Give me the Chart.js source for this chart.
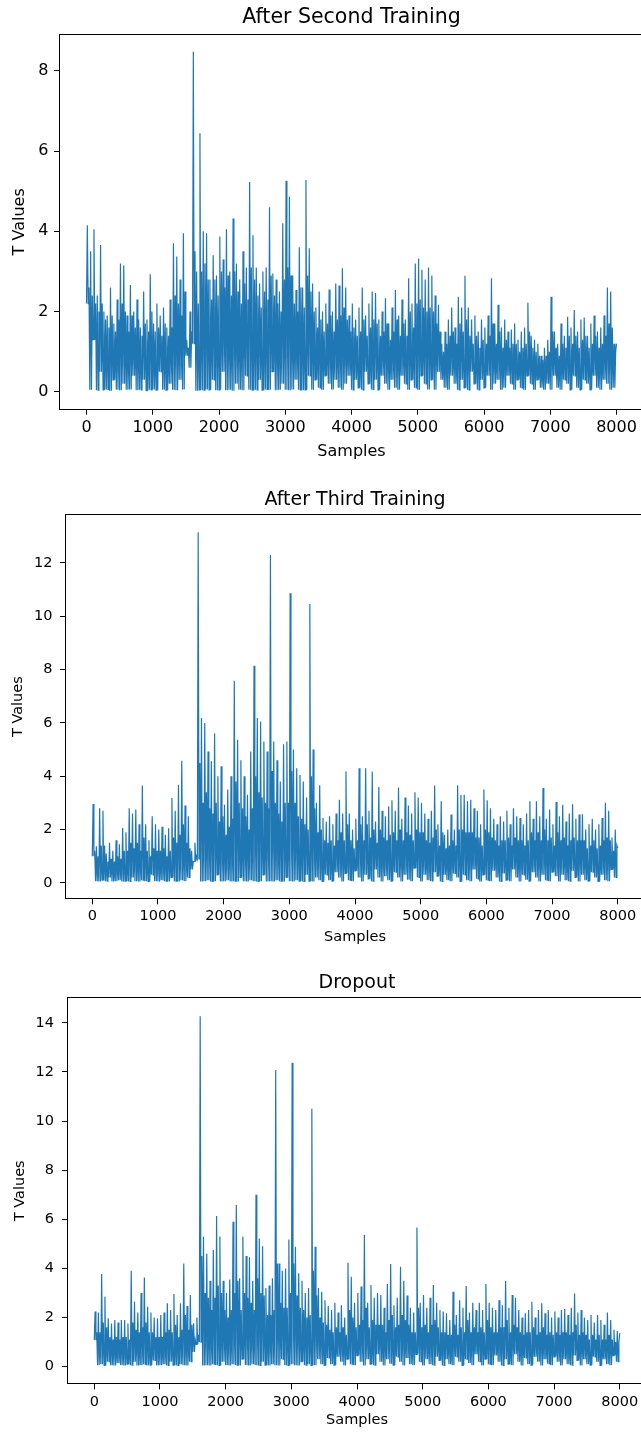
<!DOCTYPE html>
<html>
<head>
<meta charset="utf-8">
<script src="https://cdn.jsdelivr.net/npm/chart.js@4.4.1/dist/chart.umd.min.js"></script>
<style>
  html, body { margin: 0; padding: 0; background: #fff; width: 641px; height: 1432px; overflow: hidden; }
  canvas { position: absolute; left: 0; }
</style>
</head>
<body>
<canvas id="second" width="660" height="470" style="top:0px"></canvas>
<canvas id="third" width="660" height="485" style="top:470px"></canvas>
<canvas id="dropout" width="660" height="477" style="top:955px"></canvas>
<script>
// each series is stored per block of 50 samples: highest spike, trough, and the
// height of the next-highest spikes in that block
const binSize = 50;
const xTicks = [0, 1000, 2000, 3000, 4000, 5000, 6000, 7000, 8000];

const secondTicks = [0, 2, 4, 6, 8];
const secondPeaks = [
  4.15, 3.5, 4.05, 2.4, 3.66, 2.0, 1.9, 2.6, 1.7, 2.3,
  3.2, 3.15, 1.9, 2.66, 2.0, 2.3, 1.6, 2.5, 1.8, 2.93,
  1.7, 2.2, 1.9, 2.1, 1.6, 2.3, 3.7, 3.37, 2.8, 3.95,
  1.3, 2.0, 8.47, 3.0, 6.44, 4.0, 3.95, 2.8, 3.4, 2.9,
  3.87, 3.3, 4.05, 3.0, 4.32, 3.2, 2.8, 3.5, 3.1, 5.23,
  3.9, 3.1, 2.7, 3.0, 3.1, 4.6, 2.95, 2.8, 2.5, 4.2,
  5.26, 4.86, 2.9, 2.54, 3.6, 2.6, 5.28, 3.58, 2.7, 2.1,
  2.5, 2.0, 2.2, 2.55, 2.0, 2.7, 2.65, 3.08, 2.6, 1.9,
  2.2, 1.8, 2.1, 2.6, 1.9, 2.2, 2.5, 2.46, 1.8, 2.0,
  2.33, 1.7, 2.1, 2.54, 1.9, 2.3, 1.8, 2.83, 2.2, 3.2,
  3.32, 3.04, 2.8, 3.1, 2.9, 2.4, 2.17, 1.2, 1.5, 1.8,
  2.1, 1.6, 2.37, 2.1, 2.89, 2.1, 1.8, 1.9, 1.5, 1.8,
  1.6, 1.9, 2.83, 1.7, 2.17, 1.6, 1.8, 1.5, 1.55, 1.7,
  1.3, 1.5, 1.6, 2.22, 1.4, 1.3, 1.2, 0.9, 1.1, 1.3,
  2.37, 1.5, 1.2, 1.7, 1.4, 1.87, 1.6, 2.04, 1.5, 1.8,
  1.85, 1.4, 1.7, 1.9, 1.5, 1.6, 1.9, 2.6, 2.5, 1.2
];
const secondBand = [
  2.6, 2.4, 2.2, 2.0, 2.2, 1.8, 1.6, 1.9, 1.5, 1.8,
  2.2, 2.0, 1.5, 1.9, 1.6, 1.8, 1.4, 1.7, 1.5, 2.0,
  1.5, 1.6, 1.4, 1.7, 1.4, 1.6, 2.4, 2.2, 1.9, 2.5,
  1.1, 1.5, 3.5, 2.2, 3.0, 3.2, 2.8, 2.3, 2.8, 2.4,
  3.0, 2.6, 2.9, 2.4, 3.0, 2.5, 2.2, 2.7, 2.3, 3.1,
  2.8, 2.4, 2.1, 2.5, 2.3, 2.9, 2.4, 2.2, 2.0, 2.8,
  3.1, 2.9, 2.2, 2.0, 2.6, 2.1, 2.9, 2.5, 2.0, 1.6,
  1.8, 1.5, 1.7, 1.9, 1.5, 1.8, 1.9, 2.1, 1.8, 1.5,
  1.6, 1.4, 1.5, 1.8, 1.4, 1.6, 1.8, 1.7, 1.4, 1.5,
  1.7, 1.3, 1.5, 1.8, 1.4, 1.7, 1.4, 2.0, 1.6, 2.2,
  2.3, 2.1, 2.0, 2.1, 2.0, 1.7, 1.5, 1.0, 1.2, 1.4,
  1.5, 1.2, 1.7, 1.5, 1.8, 1.4, 1.2, 1.4, 1.1, 1.3,
  1.2, 1.4, 1.7, 1.2, 1.5, 1.1, 1.3, 1.1, 1.2, 1.2,
  1.0, 1.1, 1.2, 1.5, 1.1, 1.0, 0.9, 0.8, 0.9, 1.0,
  1.5, 1.1, 0.9, 1.2, 1.1, 1.4, 1.2, 1.4, 1.1, 1.3,
  1.4, 1.1, 1.2, 1.4, 1.1, 1.2, 1.4, 1.7, 1.6, 1.0
];
const secondLows = [
  2.2, 0.05, 1.3, 0.04, 0.5, 0.05, 0.06, 0.03, 0.3, 0.05,
  0.04, 0.2, 0.05, 0.06, 0.4, 0.04, 0.05, 0.3, 0.03, 0.05,
  0.06, 0.04, 0.5, 0.05, 0.04, 0.2, 0.05, 0.04, 0.3, 0.06,
  0.9, 0.6, 1.2, 0.03, 0.05, 0.04, 0.06, 0.05, 0.3, 0.04,
  0.05, 0.5, 0.04, 0.05, 0.03, 0.2, 0.05, 0.04, 0.4, 0.05,
  0.04, 0.05, 0.3, 0.04, 0.06, 0.05, 0.5, 0.04, 0.05, 0.2,
  0.05, 0.04, 0.06, 0.3, 0.05, 0.04, 0.05, 0.4, 0.05, 0.3,
  0.1, 0.05, 0.4, 0.2, 0.06, 0.3, 0.1, 0.05, 0.2, 0.4,
  0.05, 0.3, 0.1, 0.05, 0.5, 0.2, 0.06, 0.3, 0.05, 0.4,
  0.2, 0.05, 0.3, 0.1, 0.05, 0.4, 0.2, 0.05, 0.3, 0.1,
  0.05, 0.4, 0.2, 0.06, 0.3, 0.05, 0.5, 0.3, 0.1, 0.05,
  0.4, 0.2, 0.05, 0.3, 0.1, 0.05, 0.5, 0.2, 0.05, 0.3,
  0.1, 0.4, 0.05, 0.2, 0.3, 0.05, 0.1, 0.4, 0.2, 0.05,
  0.3, 0.1, 0.05, 0.4, 0.2, 0.05, 0.3, 0.1, 0.05, 0.2,
  0.05, 0.4, 0.1, 0.05, 0.3, 0.2, 0.05, 0.4, 0.1, 0.05,
  0.3, 0.2, 0.05, 0.4, 0.1, 0.05, 0.3, 0.2, 0.05, 0.1,
  1.2
];

const thirdTicks = [0, 2, 4, 6, 8, 10, 12];
const thirdPeaks = [
  2.96, 1.37, 2.8, 2.7, 1.1, 1.5, 1.2, 1.6, 1.45, 2.06,
  1.9, 2.8, 2.6, 2.75, 2.2, 3.65, 2.2, 1.6, 2.5, 2.2,
  2.0, 2.1, 1.8, 2.05, 3.18, 2.7, 3.68, 4.58, 2.9, 2.5,
  1.2, 1.5, 13.15, 6.18, 6.0, 4.93, 4.56, 5.6, 4.0, 4.37,
  2.93, 3.5, 4.0, 7.58, 5.37, 4.6, 4.0, 3.3, 4.93, 8.14,
  6.18, 6.05, 5.3, 4.93, 12.3, 5.3, 4.6, 3.8, 5.2, 5.3,
  10.86, 5.0, 4.3, 4.05, 3.8, 3.2, 10.46, 5.0, 3.0, 3.66,
  2.43, 2.3, 2.5, 2.2, 2.6, 3.12, 2.6, 4.18, 2.6, 2.0,
  2.4, 4.3, 2.5, 4.3, 2.7, 4.18, 2.3, 3.6, 2.7, 2.5,
  2.87, 3.1, 2.7, 3.58, 2.4, 3.2, 2.9, 2.6, 3.4, 3.2,
  3.0, 2.6, 2.4, 2.7, 3.65, 2.2, 3.06, 1.8, 2.0, 2.56,
  2.0, 3.66, 3.3, 3.3, 3.06, 3.12, 2.8, 2.7, 2.2, 3.5,
  3.1, 2.8, 2.4, 2.2, 2.5, 2.3, 2.7, 2.2, 2.8, 2.5,
  2.43, 2.2, 2.6, 3.06, 2.4, 3.06, 2.5, 3.56, 2.4, 2.75,
  2.2, 3.03, 2.5, 2.93, 2.3, 2.6, 2.95, 2.4, 2.56, 2.57,
  2.0, 2.2, 2.4, 2.0, 2.2, 2.43, 3.0, 2.7, 1.7, 2.0
];
const thirdBand = [
  1.2, 1.0, 1.4, 1.4, 0.8, 0.9, 0.8, 1.0, 0.9, 1.2,
  1.2, 1.5, 1.3, 1.5, 1.2, 1.7, 1.2, 1.0, 1.3, 1.2,
  1.2, 1.3, 1.0, 1.2, 1.7, 1.5, 1.8, 2.2, 1.5, 1.3,
  0.8, 1.0, 4.5, 3.0, 3.4, 2.8, 2.6, 3.0, 2.3, 2.5,
  1.8, 2.1, 2.4, 3.8, 3.0, 2.8, 2.5, 2.0, 2.8, 4.0,
  3.4, 3.2, 3.0, 2.8, 4.2, 3.0, 2.6, 2.3, 3.0, 3.0,
  4.2, 3.0, 2.5, 2.4, 2.2, 2.0, 4.0, 2.8, 1.9, 2.0,
  1.6, 1.5, 1.6, 1.4, 1.6, 1.9, 1.6, 2.2, 1.6, 1.3,
  1.6, 2.2, 1.6, 2.2, 1.7, 2.0, 1.5, 2.0, 1.7, 1.6,
  1.8, 1.9, 1.6, 2.0, 1.6, 1.9, 1.8, 1.6, 2.0, 1.9,
  1.9, 1.6, 1.5, 1.7, 2.0, 1.4, 1.9, 1.3, 1.4, 1.6,
  1.4, 2.0, 2.0, 1.9, 1.9, 1.9, 1.7, 1.7, 1.4, 2.0,
  1.9, 1.7, 1.6, 1.4, 1.6, 1.6, 1.7, 1.4, 1.7, 1.6,
  1.6, 1.4, 1.6, 1.9, 1.6, 1.9, 1.6, 2.0, 1.6, 1.7,
  1.4, 1.9, 1.6, 1.7, 1.4, 1.6, 1.7, 1.6, 1.6, 1.6,
  1.3, 1.4, 1.6, 1.3, 1.4, 1.6, 1.7, 1.6, 1.2, 1.4
];
const thirdLows = [
  1.0, 0.06, 0.05, 0.1, 0.06, 0.2, 0.05, 0.06, 0.1, 0.05,
  0.06, 0.05, 0.2, 0.06, 0.05, 0.1, 0.06, 0.05, 0.3, 0.06,
  0.05, 0.1, 0.06, 0.05, 0.2, 0.06, 0.05, 0.1, 0.06, 0.2,
  0.5, 0.8, 0.9, 0.05, 0.06, 0.1, 0.05, 0.06, 0.3, 0.05,
  0.06, 0.1, 0.05, 0.06, 0.05, 0.2, 0.06, 0.05, 0.1, 0.06,
  0.05, 0.06, 0.3, 0.05, 0.06, 0.05, 0.1, 0.06, 0.05, 0.2,
  0.06, 0.05, 0.1, 0.06, 0.05, 0.3, 0.06, 0.05, 0.2, 0.1,
  0.05, 0.3, 0.1, 0.06, 0.4, 0.2, 0.05, 0.35, 0.1, 0.06,
  0.45, 0.2, 0.05, 0.3, 0.15, 0.06, 0.5, 0.2, 0.05, 0.25,
  0.1, 0.06, 0.4, 0.2, 0.05, 0.3, 0.12, 0.06, 0.55, 0.2,
  0.05, 0.3, 0.1, 0.07, 0.4, 0.25, 0.05, 0.3, 0.1, 0.06,
  0.35, 0.2, 0.05, 0.3, 0.1, 0.06, 0.5, 0.15, 0.05, 0.3,
  0.1, 0.06, 0.45, 0.2, 0.05, 0.35, 0.1, 0.06, 0.5, 0.2,
  0.05, 0.3, 0.12, 0.06, 0.4, 0.2, 0.05, 0.3, 0.1, 0.06,
  0.4, 0.25, 0.05, 0.3, 0.1, 0.06, 0.45, 0.2, 0.05, 0.3,
  0.1, 0.06, 0.4, 0.2, 0.05, 0.3, 0.1, 0.06, 0.5, 0.2,
  1.3
];

const dropoutTicks = [0, 2, 4, 6, 8, 10, 12, 14];
const dropoutPeaks = [
  2.24, 2.2, 3.77, 2.85, 1.97, 1.76, 1.9, 1.8, 1.9, 1.9,
  1.76, 3.9, 2.64, 2.2, 3.0, 3.63, 2.44, 2.2, 2.0, 1.97,
  2.1, 2.2, 2.58, 2.3, 2.96, 2.1, 2.58, 4.2, 2.47, 2.92,
  1.76, 2.0, 14.27, 5.29, 4.6, 3.5, 4.75, 6.13, 5.3, 3.5,
  3.0, 3.55, 5.9, 6.58, 3.6, 5.3, 4.5, 4.45, 3.5, 7.0,
  5.22, 4.9, 3.2, 3.3, 3.6, 12.08, 4.2, 3.9, 4.0, 5.18,
  12.37, 4.88, 3.8, 3.5, 3.0, 3.2, 10.5, 4.88, 3.2, 3.05,
  2.7, 2.47, 2.3, 2.6, 2.2, 2.5, 2.0, 4.23, 3.66, 2.6,
  3.0, 3.26, 5.36, 2.6, 3.32, 2.8, 3.0, 2.92, 2.4, 3.36,
  4.18, 2.5, 2.8, 4.07, 3.5, 2.9, 2.4, 2.2, 5.67, 2.6,
  2.92, 2.4, 2.8, 3.32, 2.6, 2.3, 2.24, 2.17, 1.9, 3.05,
  2.1, 2.7, 2.4, 3.28, 2.2, 2.6, 2.3, 2.6, 2.3, 3.36,
  2.6, 2.4, 2.3, 2.7, 2.5, 3.49, 2.4, 2.92, 2.8, 2.3,
  2.0, 2.17, 2.3, 2.64, 2.0, 2.3, 2.58, 2.17, 2.3, 2.0,
  2.24, 2.0, 2.3, 2.35, 2.1, 2.4, 2.98, 2.2, 2.3, 2.0,
  1.9, 2.1, 1.8, 2.1, 1.9, 1.7, 2.2, 1.9, 1.5, 1.45
];
const dropoutBand = [
  1.4, 1.4, 1.8, 1.6, 1.2, 1.1, 1.2, 1.1, 1.2, 1.2,
  1.1, 1.8, 1.5, 1.4, 1.6, 1.8, 1.4, 1.4, 1.2, 1.2,
  1.2, 1.4, 1.5, 1.4, 1.7, 1.2, 1.5, 2.1, 1.5, 1.7,
  1.1, 1.3, 4.5, 3.0, 2.8, 2.3, 2.8, 3.3, 3.0, 2.3,
  2.0, 2.3, 3.0, 3.5, 2.3, 3.0, 2.8, 2.6, 2.3, 3.6,
  3.0, 2.9, 2.1, 2.1, 2.3, 4.2, 2.6, 2.4, 2.4, 3.0,
  4.2, 2.9, 2.4, 2.3, 2.0, 2.1, 3.9, 2.9, 2.0, 1.8,
  1.7, 1.5, 1.4, 1.6, 1.4, 1.6, 1.3, 2.3, 2.0, 1.6,
  1.7, 1.9, 2.4, 1.6, 1.9, 1.7, 1.7, 1.7, 1.4, 1.9,
  2.1, 1.6, 1.7, 2.1, 1.9, 1.7, 1.4, 1.4, 2.4, 1.6,
  1.7, 1.4, 1.7, 1.9, 1.6, 1.4, 1.4, 1.3, 1.3, 1.7,
  1.3, 1.6, 1.4, 1.9, 1.4, 1.6, 1.4, 1.6, 1.4, 1.9,
  1.6, 1.4, 1.4, 1.6, 1.6, 1.9, 1.4, 1.7, 1.6, 1.4,
  1.3, 1.4, 1.4, 1.6, 1.3, 1.4, 1.6, 1.3, 1.4, 1.3,
  1.4, 1.3, 1.4, 1.4, 1.3, 1.4, 1.7, 1.3, 1.4, 1.3,
  1.1, 1.3, 1.1, 1.3, 1.1, 1.1, 1.3, 1.1, 1.0, 1.0
];
const dropoutLows = [
  1.08, 0.06, 0.1, 0.05, 0.2, 0.06, 0.05, 0.15, 0.06, 0.05,
  0.1, 0.06, 0.2, 0.05, 0.06, 0.1, 0.05, 0.06, 0.25, 0.05,
  0.06, 0.1, 0.05, 0.2, 0.06, 0.05, 0.1, 0.06, 0.05, 0.2,
  0.6, 0.9, 1.0, 0.05, 0.06, 0.05, 0.1, 0.06, 0.05, 0.2,
  0.06, 0.05, 0.1, 0.06, 0.05, 0.3, 0.06, 0.05, 0.1, 0.06,
  0.05, 0.2, 0.06, 0.05, 0.1, 0.06, 0.05, 0.3, 0.06, 0.05,
  0.1, 0.06, 0.05, 0.2, 0.06, 0.1, 0.05, 0.06, 0.3, 0.1,
  0.05, 0.35, 0.1, 0.06, 0.4, 0.2, 0.05, 0.3, 0.1, 0.06,
  0.45, 0.2, 0.05, 0.3, 0.1, 0.06, 0.5, 0.2, 0.05, 0.3,
  0.12, 0.06, 0.4, 0.2, 0.05, 0.35, 0.1, 0.06, 0.5, 0.2,
  0.05, 0.3, 0.1, 0.06, 0.4, 0.25, 0.05, 0.3, 0.1, 0.06,
  0.4, 0.2, 0.05, 0.3, 0.15, 0.06, 0.5, 0.2, 0.05, 0.3,
  0.1, 0.06, 0.45, 0.2, 0.05, 0.3, 0.1, 0.06, 0.5, 0.2,
  0.05, 0.35, 0.1, 0.06, 0.4, 0.2, 0.05, 0.3, 0.12, 0.06,
  0.4, 0.2, 0.05, 0.3, 0.1, 0.06, 0.45, 0.25, 0.05, 0.3,
  0.1, 0.06, 0.4, 0.2, 0.05, 0.3, 0.1, 0.06, 0.45, 0.2,
  1.36
];

// per block: trough, spike, trough, second spike; the last trough closes the run
function buildSeries(lows, peaks, band) {
  const pts = [];
  const q = binSize / 4;
  for (let i = 0; i < peaks.length; i++) {
    const x = i * binSize;
    pts.push({ x: x, y: lows[i] });
    pts.push({ x: x + q, y: peaks[i] });
    pts.push({ x: x + 2 * q, y: lows[i] });
    pts.push({ x: x + 3 * q, y: band[i] });
  }
  pts.push({ x: peaks.length * binSize, y: lows[peaks.length] });
  return pts;
}

// full box around the plot area, like matplotlib spines
const frame = {
  id: 'frame',
  afterDraw(chart) {
    const { ctx, chartArea: a } = chart;
    ctx.save();
    ctx.strokeStyle = '#000';
    ctx.lineWidth = 1;
    ctx.strokeRect(Math.round(a.left) - 0.5, Math.round(a.top) - 0.5,
      Math.round(a.right - a.left) + 1, Math.round(a.bottom - a.top) + 1);
    ctx.restore();
  }
};

// title centred over the plot area rather than over the whole canvas
const heading = {
  id: 'heading',
  afterDraw(chart, args, opts) {
    const { ctx, chartArea: a } = chart;
    ctx.save();
    ctx.fillStyle = '#000';
    ctx.font = opts.size + 'px "DejaVu Sans"';
    ctx.textAlign = 'center';
    ctx.textBaseline = 'middle';
    ctx.fillText(opts.text, (a.left + a.right) / 2, opts.y);
    ctx.restore();
  }
};

function makeChart(id, o) {
  const font = { family: 'DejaVu Sans', size: o.fontSize };
  return new Chart(document.getElementById(id), {
    type: 'line',
    data: {
      datasets: [{
        data: buildSeries(o.lows, o.peaks, o.band),
        borderColor: '#1f77b4',
        borderWidth: 1.2,
        pointRadius: 0,
        tension: 0
      }]
    },
    options: {
      responsive: false,
      animation: false,
      devicePixelRatio: 1,
      layout: { padding: { left: 0, right: o.padRight, top: o.plotTop, bottom: 0 } },
      plugins: {
        legend: { display: false },
        tooltip: { enabled: false },
        title: { display: false },
        heading: { text: o.title, size: o.titleSize, y: o.titleY }
      },
      scales: {
        x: {
          type: 'linear',
          min: -400,
          max: 8400,
          afterFit(scale) { scale.height = o.height - o.plotBottom; },
          afterBuildTicks(scale) { scale.ticks = xTicks.map(v => ({ value: v })); },
          grid: { display: true, drawOnChartArea: false, drawTicks: true, tickLength: 6, tickColor: '#000' },
          border: { display: false },
          ticks: { color: '#000', font: font, padding: o.xPad, maxRotation: 0, autoSkip: false, callback: v => String(v) },
          title: { display: true, text: 'Samples', color: '#000', font: font, padding: { top: 0, bottom: o.xTitleBottom } }
        },
        y: {
          min: o.yMin,
          max: o.yMax,
          afterFit(scale) { scale.width = o.plotLeft; },
          afterBuildTicks(scale) { scale.ticks = o.yTicks.map(v => ({ value: v })); },
          grid: { display: true, drawOnChartArea: false, drawTicks: true, tickLength: 6, tickColor: '#000' },
          border: { display: false },
          ticks: { color: '#000', font: font, padding: o.yPad, callback: v => String(v) },
          title: { display: true, text: 'T Values', color: '#000', font: font, padding: { top: o.yTitleTop, bottom: 0 } }
        }
      }
    },
    plugins: [frame, heading]
  });
}

makeChart('second', {
  title: 'After Second Training', peaks: secondPeaks, lows: secondLows, band: secondBand, yTicks: secondTicks,
  yMin: -0.42, yMax: 8.89, height: 470, plotTop: 35, plotLeft: 60, plotBottom: 408.7, padRight: 17,
  fontSize: 16, titleSize: 20.5, titleY: 18,
  xPad: 4, xTitleBottom: 8.4, yPad: 5.5, yTitleTop: 10
});

makeChart('third', {
  title: 'After Third Training', peaks: thirdPeaks, lows: thirdLows, band: thirdBand, yTicks: thirdTicks,
  yMin: -0.58, yMax: 13.8, height: 485, plotTop: 45, plotLeft: 66, plotBottom: 428.3, padRight: 16,
  fontSize: 14.5, titleSize: 19, titleY: 30,
  xPad: 3.5, xTitleBottom: 9.3, yPad: 7.5, yTitleTop: 9.5
});

makeChart('dropout', {
  title: 'Dropout', peaks: dropoutPeaks, lows: dropoutLows, band: dropoutBand, yTicks: dropoutTicks,
  yMin: -0.68, yMax: 15.0, height: 477, plotTop: 43.3, plotLeft: 68, plotBottom: 428.3, padRight: 14,
  fontSize: 14.5, titleSize: 19, titleY: 28,
  xPad: 4, xTitleBottom: 3.3, yPad: 8, yTitleTop: 11.5
});
</script>
</body>
</html>
